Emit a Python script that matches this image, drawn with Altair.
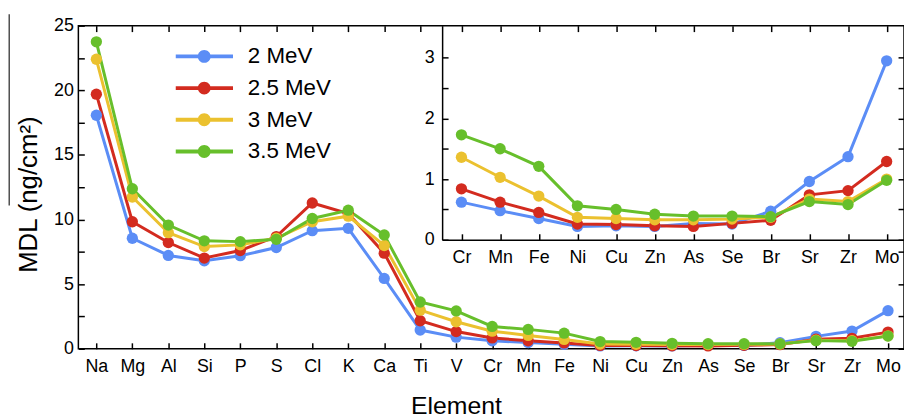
import altair as alt
import pandas as pd

# ---------------- data ----------------
elements = ["Na", "Mg", "Al", "Si", "P", "S", "Cl", "K", "Ca", "Ti", "V", "Cr",
            "Mn", "Fe", "Ni", "Cu", "Zn", "As", "Se", "Br", "Sr", "Zr", "Mo"]
energies = ["2 MeV", "2.5 MeV", "3 MeV", "3.5 MeV"]
colors = ["#5B8DF6", "#D32B1F", "#EBC12F", "#67BF2B"]

mdl_2 = [18.07, 8.55, 7.22, 6.81, 7.20, 7.83, 9.14, 9.32, 5.44, 1.45, 0.90, 0.62,
         0.48, 0.35, 0.22, 0.23, 0.22, 0.27, 0.26, 0.47, 0.96, 1.37, 2.95]
mdl_25 = [19.70, 9.83, 8.22, 7.02, 7.60, 8.68, 11.28, 10.47, 7.40, 2.17, 1.33, 0.84,
          0.62, 0.45, 0.26, 0.25, 0.23, 0.22, 0.27, 0.32, 0.74, 0.81, 1.29]
mdl_3 = [22.40, 11.74, 8.98, 7.91, 8.04, 8.55, 9.83, 10.26, 7.99, 2.99, 2.09, 1.36,
         1.03, 0.72, 0.37, 0.35, 0.33, 0.33, 0.34, 0.37, 0.67, 0.63, 1.00]
mdl_35 = [23.75, 12.38, 9.57, 8.35, 8.29, 8.47, 10.08, 10.72, 8.81, 3.62, 2.93, 1.73,
          1.50, 1.21, 0.56, 0.50, 0.42, 0.39, 0.39, 0.38, 0.63, 0.58, 0.98]

inset_elements = elements[11:]

main_y_labels = [0, 5, 10, 15, 20, 25]
main_y_ticks = [0, 2.5, 5, 7.5, 10, 12.5, 15, 17.5, 20, 22.5, 25]
main_right_ticks = [0, 2.5, 5, 7.5]
main_top_ticks = elements[:10]
inset_y_labels = [0, 1, 2, 3]
inset_y_ticks = [0, 0.5, 1, 1.5, 2, 2.5, 3]

series = [mdl_2, mdl_25, mdl_3, mdl_35]
rows = []
for e_name, vals in zip(energies, series):
    for i, (el, v) in enumerate(zip(elements, vals)):
        rows.append({"energy": e_name, "element": el, "value": v, "idx": i})
df = pd.DataFrame(rows)
df_inset = df[df["element"].isin(inset_elements)]

# ---------------- geometry ----------------
W, H = 833, 326
FONT = "Liberation Sans"
INSET_LEFT = 367
INSET_RIGHT = 835
INSET_BOTTOM = 216
PT_SIZE = 130

legend_path = ("M-1,-0.068L1,-0.068L1,0.068L-1,0.068Z "
               "M-0.225,0A0.225,0.225 0 1,1 0.225,0A0.225,0.225 0 1,1 -0.225,0Z")


def color_enc(legend=None):
    if legend is None:
        return alt.Color("energy:N", scale=alt.Scale(domain=energies, range=colors), legend=None)
    return alt.Color("energy:N", scale=alt.Scale(domain=energies, range=colors), legend=legend)


def x_main(axis):
    return alt.X("element:O", sort=elements,
                 scale=alt.Scale(type="point", domain=elements, padding=0.5, range=[0, 835]),
                 axis=axis)


def y_main(axis):
    return alt.Y("value:Q", scale=alt.Scale(domain=[0, 25], nice=False, zero=True), axis=axis)


def x_inset(axis):
    return alt.X("element:O", sort=inset_elements,
                 scale=alt.Scale(type="point", domain=inset_elements, padding=0.5,
                                 range=[INSET_LEFT, INSET_RIGHT]),
                 axis=axis)


def y_inset(axis):
    return alt.Y("value:Q", scale=alt.Scale(domain=[0, 3.53], nice=False, zero=True,
                                            range=[INSET_BOTTOM, 0]), axis=axis)


def tick_axis(orient, offset, values):
    return alt.Axis(orient=orient, offset=offset, values=values, ticks=True, tickSize=6,
                    labels=False, domain=False, title=None, grid=False)


legend = alt.Legend(orient="none", legendX=98, legendY=20, title=None,
                    symbolType=legend_path, symbolSize=3364, symbolStrokeWidth=0,
                    clipHeight=22, rowPadding=9, labelOffset=15, labelFontSize=22.5,
                    labelFont=FONT, labelColor="black", padding=0, symbolOpacity=1,
                    labelLimit=300)

# ---------------- main panel ----------------
# invisible layer first: carries the legend plus top/right inward ticks
main_ghost = alt.Chart(df).mark_point(filled=True, opacity=0, size=1).encode(
    x=x_main(tick_axis("top", -6, main_top_ticks)),
    y=y_main(tick_axis("right", -6, main_right_ticks)),
    color=color_enc(legend),
)

main_line = alt.Chart(df).mark_line(strokeWidth=3).encode(
    x=x_main(alt.Axis(orient="bottom", title="Element", ticks=False, tickSize=0,
                      domain=False, labelPadding=9, labelAngle=0, titlePadding=18,
                      titleFontSize=25, titleX=381)),
    y=y_main(alt.Axis(orient="left", values=main_y_labels, ticks=False, tickSize=0,
                      domain=False, labelPadding=5, title="MDL (ng/cm²)",
                      titleFontSize=26, titlePadding=12, titleY=170)),
    color=color_enc(),
    order=alt.Order("idx:Q"),
    detail="energy:N",
)

main_pts = alt.Chart(df).mark_point(filled=True, size=PT_SIZE, opacity=1).encode(
    x=x_main(tick_axis("bottom", -6, elements)),
    y=y_main(tick_axis("left", -6, main_y_ticks)),
    color=color_enc(),
)

# ---------------- inset panel ----------------
inset_line = alt.Chart(df_inset).mark_line(strokeWidth=3).encode(
    x=x_inset(alt.Axis(orient="bottom", offset=-(H - INSET_BOTTOM), title=None,
                       ticks=False, tickSize=0, domain=True, labelPadding=9,
                       labelAngle=0, zindex=1)),
    y=y_inset(alt.Axis(orient="left", offset=-INSET_LEFT, values=inset_y_labels,
                       ticks=False, tickSize=0, domain=True, labelPadding=8,
                       title=None, zindex=1)),
    color=color_enc(),
    order=alt.Order("idx:Q"),
    detail="energy:N",
)

inset_pts = alt.Chart(df_inset).mark_point(filled=True, size=PT_SIZE, opacity=1).encode(
    x=x_inset(tick_axis("bottom", -(H - INSET_BOTTOM) - 6, inset_elements)),
    y=y_inset(tick_axis("left", -INSET_LEFT - 6, inset_y_ticks)),
    color=color_enc(),
)

inset_ghost = alt.Chart(df_inset).mark_point(opacity=0, size=1).encode(
    x=x_inset(tick_axis("top", -6, inset_elements)),
    y=y_inset(tick_axis("right", -6, inset_y_ticks)),
)

# thin vertical stroke seen at the far left of the original figure,
# drawn as the domain line of an unlabeled axis
stroke_ghost = alt.Chart(df).mark_point(opacity=0, size=1).encode(
    y=alt.Y("value:Q", scale=alt.Scale(domain=[0, 25], nice=False, range=[181, -12]),
            axis=alt.Axis(orient="left", offset=70.3, domain=True, ticks=False,
                          labels=False, title=None, grid=False,
                          domainColor="#222222", domainWidth=1.2)),
)

chart = alt.layer(
    main_ghost, main_line, main_pts, inset_line, inset_pts, inset_ghost, stroke_ghost
).resolve_scale(
    x="independent", y="independent", color="shared"
).resolve_axis(
    x="independent", y="independent"
).properties(
    width=W, height=H,
    autosize=alt.AutoSizeParams(type="none"),
    padding={"left": 71, "top": 16, "right": 0, "bottom": 65},
).configure_view(
    stroke="black", strokeWidth=1.5
).configure_axis(
    grid=False, labelFont=FONT, titleFont=FONT, labelFontSize=18,
    labelColor="black", titleColor="black", tickColor="black", domainColor="black",
    tickWidth=1.5, domainWidth=1.5, titleFontWeight="normal", labelOverlap=False
)

chart.save("out.html", embed_options={"renderer": "svg", "actions": False})
